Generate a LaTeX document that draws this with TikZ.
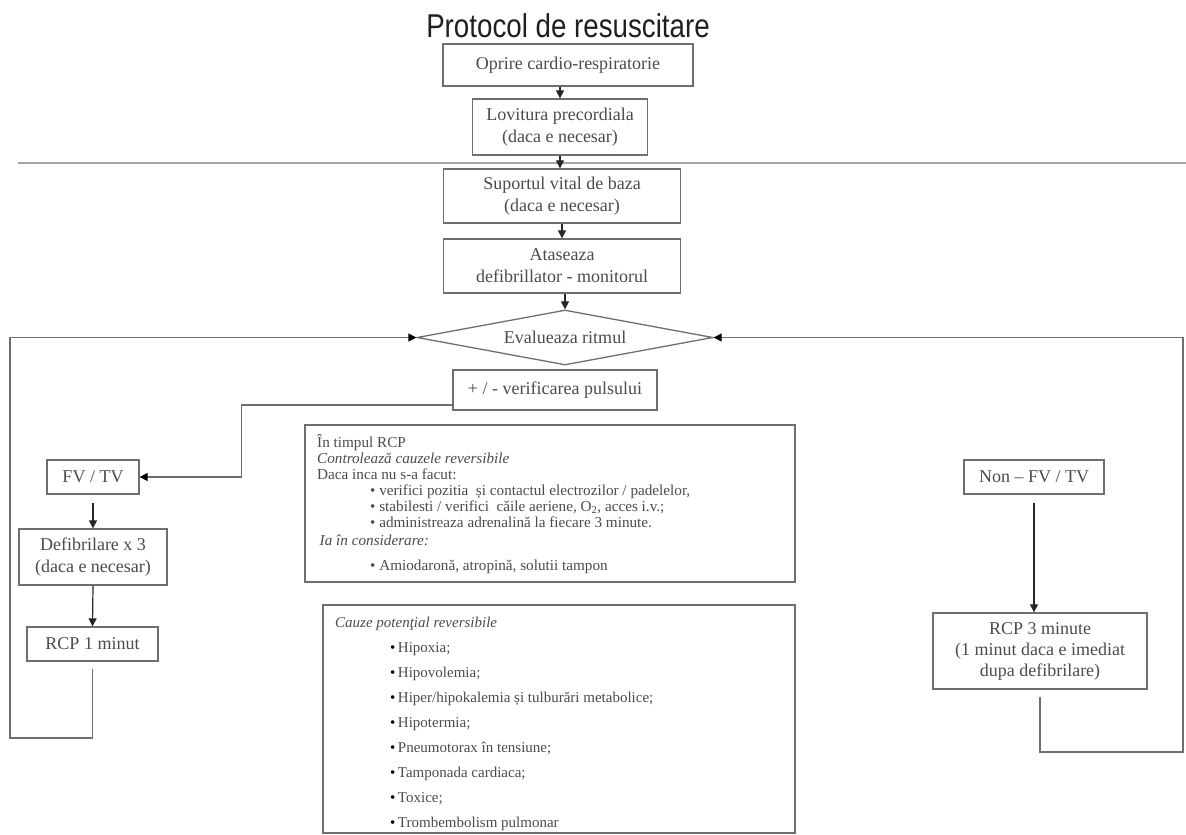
\documentclass[tikz,border=0pt]{standalone}
\usepackage{fontspec}
\setmainfont{Liberation Serif}
\newfontfamily\titlefont[FakeStretch=0.84]{Liberation Sans}
\usetikzlibrary{shapes.geometric,arrows.meta,calc}
\definecolor{ln}{RGB}{110,110,110}
\definecolor{tx}{RGB}{75,75,75}
\definecolor{lgr}{RGB}{165,165,165}
\begin{document}
\begin{tikzpicture}[x=1pt,y=-1pt,
  box/.style={draw=ln, line width=1.3pt, inner sep=0pt, align=center, text=tx,
              font=\fontsize{18}{22}\selectfont},
  arr/.style={draw=black!85, line width=1.2pt, -{Triangle[length=8pt,width=8pt]}},
  looparr/.style={draw=ln, line width=1.3pt, -{Triangle[length=8pt,width=8pt,color=black]}},
  plain/.style={anchor=north west, inner sep=0pt, align=left, text=tx}]
\useasboundingbox (0,0) rectangle (1186,835);

\node[anchor=base, inner sep=0pt, text=black!88, font=\titlefont\fontsize{33}{38}\selectfont] (title) at (568,37) {Protocol de resuscitare};

\node[box, minimum width=250pt, minimum height=42pt] (b1) at (568,65) {Oprire cardio-respiratorie};
\node[box, minimum width=175pt, minimum height=56pt] (b2) at (560,127) {Lovitura precordiala\\(daca e necesar)};
\coordinate (sepL) at (18,163);
\coordinate (sepR) at (1186,163);
\draw[lgr, line width=1.5pt] (sepL) -- (sepR);
\node[box, minimum width=237pt, minimum height=54pt] (b3) at (562,196) {Suportul vital de baza\\(daca e necesar)};
\node[box, minimum width=237pt, minimum height=54pt] (b4) at (562,266) {Ataseaza\\defibrillator - monitorul};
\node[diamond, draw=ln, line width=1.3pt, aspect=5.4, minimum width=296pt, minimum height=55pt, inner sep=0pt,
      text=tx, font=\fontsize{18}{22}\selectfont] (d) at (565,337.5) {Evalueaza ritmul};
\node[box, minimum width=204pt, minimum height=40pt] (p) at (555,390) {+ / - verificarea pulsului};

\draw[arr] (b1.south -| b2.north) -- (b2.north);
\draw[arr] (b2.south) -- (b2.south |- b3.north);
\draw[arr] (b3.south) -- (b4.north);
\draw[arr] (b4.south -| d.north) -- (d.north);

% left branch
\node[box, minimum width=92pt, minimum height=34pt] (fv) at (93,477) {FV / TV};
\node[box, minimum width=148pt, minimum height=56pt] (defib) at (93,557) {Defibrilare x 3\\(daca e necesar)};
\node[box, minimum width=131pt, minimum height=34pt] (rcp1) at (92.5,644) {RCP 1 minut};
\draw[looparr] ([yshift=-15pt]p.west) -- ++(-211,0) |- (fv.east);
\draw[arr] ([yshift=-8pt]fv.south) -- (defib.north);
\draw[arr] (defib.south) -- (rcp1.north);
\coordinate (lc) at (10,738);
\draw[looparr] ([yshift=-7pt]rcp1.south) |- (lc) |- (d.west);

% middle info box
\node[draw=ln, line width=1.3pt, minimum width=490pt, minimum height=157pt, inner sep=0pt] (mb) at (550,503.5) {};
\node[plain, font=\fontsize{15.2}{16}\selectfont] (mt) at (317,434) {În timpul RCP\\
\textit{Controlează cauzele reversibile}\\
Daca inca nu s-a facut:\\
\hspace*{53pt}\textbullet{} verifici pozitia\ \ și contactul electrozilor / padelelor,\\
\hspace*{53pt}\textbullet{} stabilesti / verifici\ \ căile aeriene, O\textsubscript{2}, acces i.v.;\\
\hspace*{53pt}\textbullet{} administreaza adrenalină la fiecare 3 minute.\\[2pt]
\,\textit{Ia în considerare:}\\[9pt]
\hspace*{53pt}\textbullet{} Amiodaronă, atropină, solutii tampon};

% causes box
\node[draw=ln, line width=1.3pt, minimum width=472pt, minimum height=228pt, inner sep=0pt] (cb) at (559,719) {};
\node[plain, font=\fontsize{15}{25}\selectfont] (ct) at (335,617) {\textit{Cauze potenţial reversibile}\\
\hspace*{55pt}{\color{black}\textbullet}\,Hipoxia;\\
\hspace*{55pt}{\color{black}\textbullet}\,Hipovolemia;\\
\hspace*{55pt}{\color{black}\textbullet}\,Hiper/hipokalemia și tulburări metabolice;\\
\hspace*{55pt}{\color{black}\textbullet}\,Hipotermia;\\
\hspace*{55pt}{\color{black}\textbullet}\,Pneumotorax în tensiune;\\
\hspace*{55pt}{\color{black}\textbullet}\,Tamponada cardiaca;\\
\hspace*{55pt}{\color{black}\textbullet}\,Toxice;\\
\hspace*{55pt}{\color{black}\textbullet}\,Trombembolism pulmonar};

% right branch
\node[box, minimum width=140pt, minimum height=34pt] (non) at (1034,477) {Non – FV / TV};
\node[box, minimum width=214pt, minimum height=76pt, font=\fontsize{18}{21}\selectfont] (rcp3) at (1040,651) {RCP 3 minute\\(1 minut daca e imediat\\dupa defibrilare)};
\draw[arr] ([yshift=-8pt]non.south) -- (non.south |- rcp3.north);
\coordinate (rc) at (1183,752);
\draw[looparr] ([yshift=-7pt]rcp3.south) |- (rc) |- (d.east);
\end{tikzpicture}
\end{document}
